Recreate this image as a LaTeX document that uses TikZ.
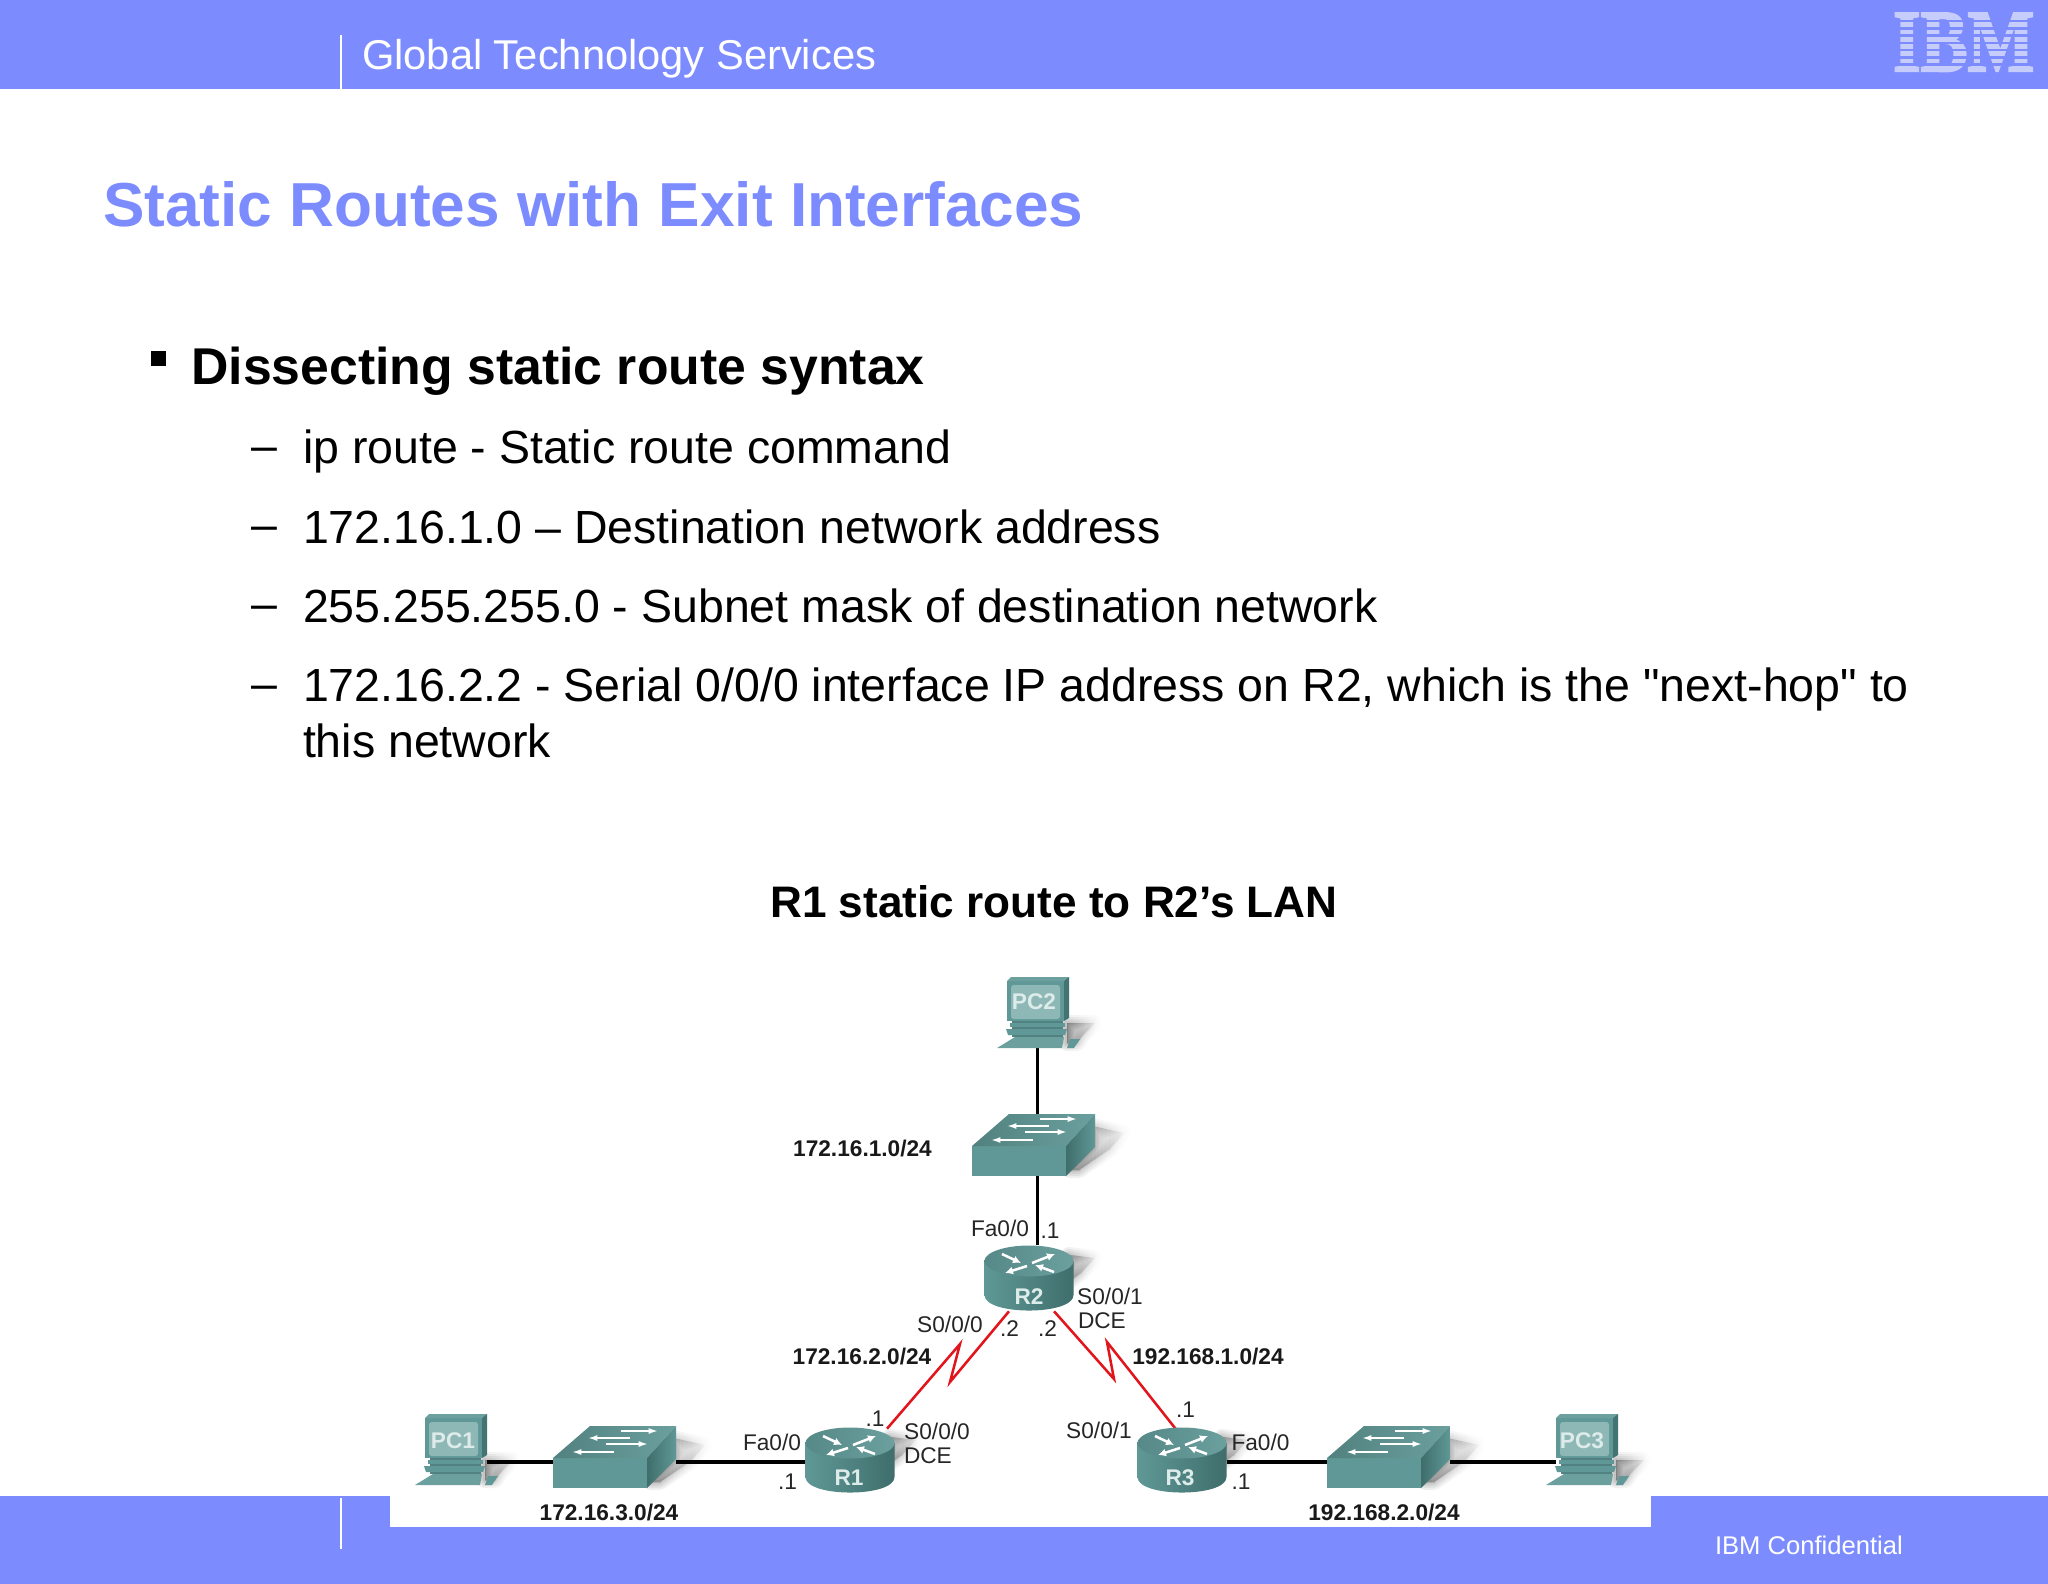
\documentclass[tikz,border=0pt]{standalone}
\usepackage{fontspec}
\setmainfont{Liberation Sans}
\newfontfamily\qf{Liberation Sans}
\newfontfamily\ibmserif[BoldFont={Liberation Serif Bold},BoldFeatures={FakeBold=2.5}]{Liberation Serif}
\usetikzlibrary{arrows.meta,fadings}
\newcommand{\fsz}[1]{\fontsize{#1}{#1}\selectfont}
\definecolor{band}{HTML}{7C8CFF}
\definecolor{logo}{HTML}{C6CDFB}
\definecolor{tealf}{HTML}{5F9896}
\definecolor{tealt}{HTML}{6BA09E}
\definecolor{teald}{HTML}{3F6E6C}
\definecolor{tealm}{HTML}{86B2B0}
\definecolor{scr}{HTML}{8DB8B6}
\definecolor{redl}{HTML}{E2141C}
\definecolor{lbl}{HTML}{DDEBEA}
\tikzset{
  x=0.75pt,y=-0.75pt,
  every node/.style={inner sep=0pt,outer sep=0pt},
  slidehead/.style={anchor=base west,text=white,font=\fsz{31.25pt}},
  slidetitle/.style={anchor=base west,text=band,font=\fsz{46.6pt}\bfseries},
  lvlone/.style={anchor=base west,font=\fsz{38.8pt}\bfseries},
  lvltwo/.style={anchor=base west,font=\fsz{34.85pt}},
  net/.style={anchor=center,text=black!90,font=\fsz{17pt}\bfseries},
  ifc/.style={anchor=center,text=black!85,font=\fsz{17pt}},
  devlabel/.style={anchor=center,text=lbl,font=\fsz{17pt}\bfseries},
  devbox/.style={minimum width=#1*0.75pt,minimum height=50pt,draw=none,fill=none},
  lan/.style={line width=2.6pt,black},
  serial/.style={line width=1.9pt,redl,line join=miter},
  whitearrow/.style={white,line width=1.9pt,-{Latex[length=6pt,width=6pt]}},
  swarrow/.style={white,line width=1.3pt,-{Latex[length=7pt,width=4.5pt]}},
  softshadow/.style={fill=black,draw=black,line join=round,path fading=east,opacity=0.07},
  pics/routershadow/.style={code={
    \foreach \w in {0,3,6,9,12}
      \path[softshadow,line width=\w pt] (40,-6) -- (66,-3) -- (52,12) -- (38,22) -- cycle;}},
  pics/switchshadow/.style={code={
    \foreach \w in {0,3,6,9,12}
      \path[softshadow,line width=\w pt] (120,-20) -- (152,-13) -- (138,3) -- (107,24) -- (98,24) -- (120,3) -- cycle;}},
  pics/pcshadow/.style={code={
    \foreach \w in {0,3,6,9,12}
      \path[softshadow,line width=\w pt] (60,46) -- (88,46) -- (76,58) -- (70,66) -- (60,66) -- cycle;}},
  pics/routerbody/.style={code={
    \shade[left color=tealf,middle color=tealm,right color=teald]
      (-44.5,0) -- (-44.5,34) .. controls (-44.5,54.7) and (44.5,54.7) .. (44.5,34) -- (44.5,0) -- cycle;
    \shade[left color=tealf!90!black,right color=tealt] (0,0) ellipse [x radius=44.5,y radius=15.5];
    \draw[whitearrow] (-27,-7) -- (-8,2);
    \draw[whitearrow] (3,2) -- (26,-7);
    \draw[whitearrow] (-2,5) -- (-24,12);
    \draw[whitearrow] (25,11) -- (6,4);}},
  pics/switchbody/.style={code={
    \fill[tealf] (0,0) rectangle (94,30);
    \shade[left color=tealf!85!black,right color=tealt] (0,0) -- (94,0) -- (123,-32) -- (37,-32) -- cycle;
    \shade[left color=teald,right color=tealf] (94,0) -- (123,-32) -- (123,1) -- (94,30) -- cycle;
    \draw[swarrow] (68,-27) -- (105,-27);
    \draw[swarrow] (77,-20) -- (35,-20);
    \draw[swarrow] (53,-14) -- (95,-14);
    \draw[swarrow] (61,-6) -- (19,-6);}},
  pics/pcbody/.style={code={
    \fill[tealf!85!black] (5,44) rectangle (56,60);
    \fill[tealf] (0,4) rectangle (57,44);
    \fill[tealt] (0,4) -- (4,0) -- (62,0) -- (57,4) -- cycle;
    \fill[teald!85!tealf] (57,4) -- (62,0) -- (62,41) -- (57,44) -- cycle;
    \fill[scr,rounded corners=2pt] (4,8) rectangle (53,42);
    \fill[tealf] (3,46) rectangle (58,50);
    \fill[tealf] (-1,52) -- (60,52) -- (58,58) -- (1,58) -- cycle;
    \fill[tealt] (8,60) -- (57,60) -- (55,71) -- (-10,71) -- cycle;
    \fill[tealf] (63,62) -- (73,62) -- (67,71) -- (60,71) -- cycle;}},
}
\begin{document}
\begin{tikzpicture}
\useasboundingbox (0,0) rectangle (2048,1584);
% slide frame
\fill[white] (0,0) rectangle (2048,1584);
\fill[band] (0,0) rectangle (2048,89);
\fill[band] (0,1496) rectangle (2048,1584);
\fill[white] (390,1490) rectangle (1651,1527);
\draw[white,line width=1.1pt] (341,35) -- (341,89);
\draw[white,line width=1.1pt] (341,1498) -- (341,1549);
% logo
\node[anchor=base west,text=logo,font=\ibmserif\fsz{53pt}\bfseries,yscale=1.25] (ibmlogo) at (1893,71) {IBM};
\foreach \yy in {21,28.3,35.6,42.9,50.2,57.5,64.8}
  \fill[band] (1885,\yy-1.3) rectangle (2040,\yy+1.3);
% slide text
\node[slidehead] (head) at (362,69.5) {Global Technology Services};
\node[anchor=base west,text=white,font=\fsz{19.2pt}] (conf) at (1715,1554) {IBM Confidential};
\node[slidetitle] (title) at (103,226) {Static Routes with Exit Interfaces};
\fill[black] (151,351) rectangle (166,366);
\node[lvlone] (l1) at (191.5,384.5) {Dissecting static route syntax};
\node[lvltwo] (d1) at (251,461.5) {–};
\node[lvltwo] (t1) at (303,463.5) {ip route - Static route command};
\node[lvltwo] (d2) at (251,540.5) {–};
\node[lvltwo] (t2) at (303,543) {172.16.1.0 – Destination network address};
\node[lvltwo] (d3) at (251,619.5) {–};
\node[lvltwo] (t3) at (303,622) {255.255.255.0 - Subnet mask of destination network};
\node[lvltwo] (d4) at (251,699.5) {–};
\node[lvltwo] (t4) at (303,701.5) {172.16.2.2 - Serial 0/0/0 interface IP address on R2, which is the {\qf\symbol{34}}next-hop{\qf\symbol{34}} to};
\node[lvltwo] (t5) at (303,757.5) {this network};
\node[anchor=center,font=\fsz{33.1pt}\bfseries] (dtitle) at (1054,902) {R1 static route to R2’s LAN};
% shadows
\begin{scope}
\clip (0,89) rectangle (1651,1496);
\pic at (1182,1443) {routershadow};
\pic at (850,1443) {routershadow};
\pic at (1029,1261) {routershadow};
\pic at (553,1458) {switchshadow};
\pic at (972,1146) {switchshadow};
\pic at (1327,1458) {switchshadow};
\pic at (425,1414) {pcshadow};
\pic at (1007,977) {pcshadow};
\pic at (1556,1414) {pcshadow};
\end{scope}
% device anchors
\node[devbox=62] (PC1) at (456,1462) {};
\node[devbox=62,minimum height=54pt] (PC2) at (1037.5,1012) {};
\node[devbox=62] (PC3) at (1587,1462) {};
\node[devbox=123] (SW1) at (614.5,1462) {};
\node[devbox=123,minimum height=46.5pt] (SW2) at (1033.5,1145) {};
\node[devbox=123] (SW3) at (1388.5,1462) {};
\node[devbox=89] (R1) at (850,1462) {};
\node[devbox=89] (R2) at (1029,1278) {};
\node[devbox=89] (R3) at (1182,1462) {};
\coordinate (z1a) at (960,1344);
\coordinate (z1b) at (950,1382);
\coordinate (z2a) at (1114,1379);
\coordinate (z2b) at (1107,1342);
% connectors
\draw[lan] (PC1.east) -- (SW1.west);
\draw[lan] (SW1.east) -- (R1.west);
\draw[lan] (R3.east) -- (SW3.west);
\draw[lan] (SW3.east) -- (PC3.west);
\draw[lan] (PC2.south) -- (SW2.north -| PC2.south);
\draw[lan] (SW2.south -| PC2.south) -- (R2.north -| PC2.south);
\draw[serial] (R1.42) -- (z1a) -- (z1b) -- (R2.-121);
\draw[serial] (R2.-53) -- (z2a) -- (z2b) -- (R3.101);
% devices
\pic at (850,1443) {routerbody};
\pic at (1029,1261) {routerbody};
\pic at (1182,1443) {routerbody};
\pic at (553,1458) {switchbody};
\pic at (972,1146) {switchbody};
\pic at (1327,1458) {switchbody};
\pic at (425,1414) {pcbody};
\pic at (1007,977) {pcbody};
\pic at (1556,1414) {pcbody};
% device labels
\node[devlabel] (lPC1) at (453,1441) {PC1};
\node[devlabel] (lPC2) at (1034,1002) {PC2};
\node[devlabel] (lPC3) at (1582,1441) {PC3};
\node[devlabel] (lR1) at (849,1478) {R1};
\node[devlabel] (lR2) at (1029,1297) {R2};
\node[devlabel] (lR3) at (1180,1478) {R3};
% network labels
\node[net] (n1) at (862.5,1149) {172.16.1.0/24};
\node[net] (n2) at (862,1356) {172.16.2.0/24};
\node[net] (n3) at (609,1512) {172.16.3.0/24};
\node[net] (n4) at (1208,1356) {192.168.1.0/24};
\node[net] (n5) at (1384,1512) {192.168.2.0/24};
% interface labels
\node[ifc] (f1) at (772,1442.5) {Fa0/0};
\node[ifc] (d11) at (787.5,1482) {.1};
\node[ifc] (d12) at (875,1419) {.1};
\node[ifc] (s1) at (937,1431) {S0/0/0};
\node[ifc,anchor=west] (dce1) at (904,1456) {DCE};
\node[ifc] (s2) at (950,1324) {S0/0/0};
\node[ifc] (f2) at (1000,1228) {Fa0/0};
\node[ifc] (d21) at (1050,1231) {.1};
\node[ifc] (d22) at (1009.5,1329) {.2};
\node[ifc] (d23) at (1047.5,1329) {.2};
\node[ifc] (s3) at (1110,1296) {S0/0/1};
\node[ifc,anchor=west] (dce2) at (1078,1321) {DCE};
\node[ifc] (d31) at (1185.5,1410) {.1};
\node[ifc] (s4) at (1099,1430) {S0/0/1};
\node[ifc] (f3) at (1260.5,1442.5) {Fa0/0};
\node[ifc] (d32) at (1241,1482) {.1};
\end{tikzpicture}
\end{document}
